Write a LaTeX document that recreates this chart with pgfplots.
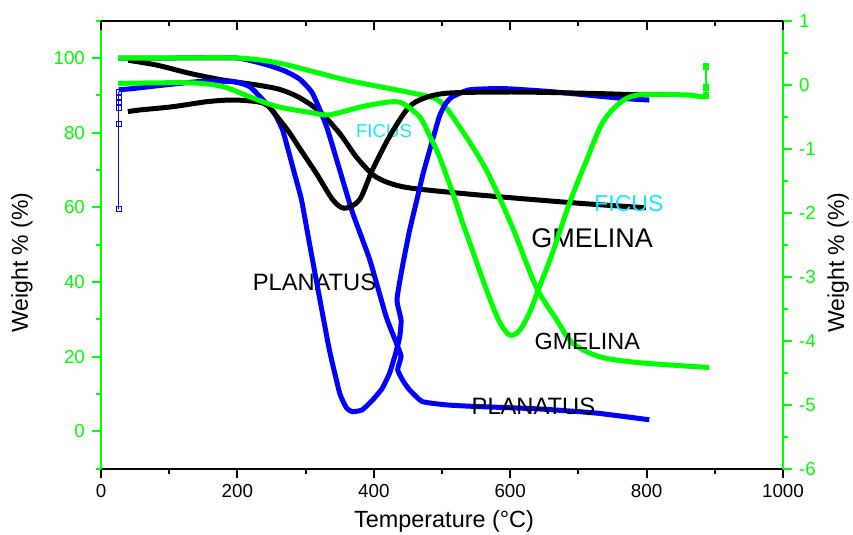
\documentclass[border=0pt]{standalone}
\usepackage{fontspec}
\setmainfont{Liberation Sans}
\usepackage{pgfplots}
\pgfplotsset{compat=1.18}

\definecolor{tgreen}{RGB}{0,255,0}
\definecolor{tblue}{RGB}{0,0,255}
\definecolor{ficus}{RGB}{20,230,255}

\pgfplotsset{
  common/.style={
    at={(0,0)}, anchor=south west,
    scale only axis, width=341pt, height=224pt,
    xmin=0, xmax=1000,
    xtick={0,200,...,1000}, minor xtick={100,300,...,900},
    major tick length=4.5pt, minor tick length=2.5pt,
    tick label style={font=\fontsize{9.4}{11}\selectfont},
    /pgf/number format/assume math mode=true,
    /pgf/number format/1000 sep={},
  },
  curve/.style={line width=2.5pt, smooth, tension=0.5, no marks},
}

\begin{document}
\begin{tikzpicture}
\path[use as bounding box] (-50.5pt,-33pt) rectangle (376pt,234.35pt);

% left axis: TG curves
\begin{axis}[common,
    ymin=-10, ymax=110,
    axis x line*=bottom, axis y line*=left,
    tick align=outside,
    ytick={0,20,...,100}, minor ytick={-10,10,...,110},
    x axis line style={line width=1pt},
    y axis line style={draw=tgreen, line width=1pt},
    xtick style={line width=1pt, draw=black},
    ytick style={line width=1pt, draw=tgreen},
    yticklabel style={text=tgreen},
    xlabel={Temperature (°C)},
    xlabel style={at={(axis description cs:0.503,-0.118)}, anchor=center, font=\fontsize{11.7}{14}\selectfont},
    ylabel={Weight \% (\%)},
    ylabel style={at={(axis description cs:-0.116,0.46)}, anchor=center, font=\fontsize{11.5}{14}\selectfont},
  ]
  % FICUS TG
  \addplot[curve, black] coordinates {
    (40,99.4)(82,98.1)(130,95.9)(179,94.1)(228,92.8)(262,91.6)(291,89.4)
    (321,85.6)(350,79.8)(374,73.6)(399,68.7)(423,66.5)(457,65.1)(555,63.3)
    (701,61.1)(799,59.9)};
  % PLANATUS TG
  \addplot[line width=2.5pt, tblue, smooth, tension=0.3, no marks] coordinates {
    (25,100)(100,100)(199,100)(243,98.2)(270,96.5)(291,94.4)(310,90.6)
    (331,81.5)(350,70)(369,58.5)(394,46)(418,30.8)(433,23.7)(440,20.1)
    (435,16.5)(443,13.5)(452,11.2)(471,8)(506,7.1)(545,6.7)(643,6)(726,4.9)(804,3.1)};
  % GMELINA TG
  \addplot[curve, tgreen] coordinates {
    (25,100)(100,100)(200,100)(262,98.6)(360,94.1)(457,90.6)(496,88.5)
    (526,81.5)(565,70)(603,54.8)(638,38.7)(668,29.9)(691,23.7)(731,20)
    (789,18.4)(892,17.1)};

  \node[font=\fontsize{11.85}{14}\selectfont, inner sep=0] at (axis cs:313,39.8) {PLANATUS};
  \node[font=\fontsize{11.85}{14}\selectfont, inner sep=0] at (axis cs:634,6.8) {PLANATUS};
  \node[font=\fontsize{9.3}{11}\selectfont, text=ficus, inner sep=0] at (axis cs:415,80.5) {FICUS};
  \node[font=\fontsize{11.5}{14}\selectfont, text=ficus, inner sep=0] at (axis cs:774,61.1) {FICUS};
  \node[font=\fontsize{13.5}{16}\selectfont, inner sep=0] at (axis cs:720,51.8) {GMELINA};
  \node[font=\fontsize{11.7}{14}\selectfont, inner sep=0] at (axis cs:713,24.1) {GMELINA};
\end{axis}

% right axis: DTG curves
\begin{axis}[common,
    ymin=-6, ymax=1,
    axis x line=none, axis y line*=right,
    tick align=outside,
    ytick={-6,...,1}, minor ytick={-5.5,-4.5,...,0.5},
    y axis line style={draw=tgreen, line width=1pt},
    ytick style={line width=1pt, draw=tgreen},
    yticklabel style={text=tgreen},
    ylabel={Weight \% (\%)},
    ylabel style={at={(axis description cs:1.081,0.46)}, anchor=center, font=\fontsize{11.5}{14}\selectfont},
  ]
  % PLANATUS DTG
  \addplot[tblue, line width=0.5pt, mark=square, mark size=1.2pt, mark options={fill=white}] coordinates {
    (26,-1.94)(26,-0.61)(26,-0.36)(26,-0.27)(26,-0.21)(26,-0.11)};
  \addplot[line width=2.5pt, tblue, smooth, tension=0.3, no marks] coordinates {
    (26,-0.08)(47,-0.06)(97,0.0)(145,0.05)(193,0.05)(218,-0.03)(243,-0.30)
    (256,-0.48)(266,-0.70)(274,-1.0)(284,-1.4)(294,-1.80)(306,-2.5)(321,-3.36)(335,-4.15)
    (350,-4.82)(360,-5.05)(369,-5.11)(383,-5.08)(398,-4.93)(412,-4.75)(423,-4.51)
    (432,-4.2)(438,-3.94)(440,-3.68)(434,-3.36)(442,-2.84)(452,-2.3)(462,-1.85)
    (472,-1.4)(482,-1.02)(496,-0.5)(505,-0.3)(515,-0.19)(540,-0.08)(589,-0.06)
    (662,-0.11)(760,-0.21)(804,-0.24)};
  % FICUS DTG
  \addplot[curve, black] coordinates {
    (39.5,-0.42)(57,-0.395)(105,-0.344)(155,-0.266)(193,-0.239)(229,-0.266)
    (245,-0.33)(262,-0.55)(277,-0.76)(291,-0.99)(316,-1.39)(340,-1.80)(357,-1.93)
    (379,-1.80)(398,-1.33)(423,-0.81)(448,-0.395)(467,-0.24)(506,-0.134)
    (603,-0.114)(712,-0.134)(796,-0.16)};
  % GMELINA DTG
  \addplot[curve, tgreen] coordinates {
    (25,0.02)(130,0.03)(179,-0.03)(218,-0.19)(258,-0.34)(310,-0.44)(335,-0.47)
    (384,-0.34)(423,-0.27)(442,-0.29)(467,-0.50)(482,-0.80)(496,-1.12)
    (516,-1.70)(530,-2.15)(545,-2.6)(565,-3.20)(584,-3.70)(599,-3.91)
    (613,-3.85)(628,-3.57)(645,-3.1)(662,-2.63)(687,-1.85)(712,-1.18)
    (735,-0.60)(760,-0.29)(788,-0.16)(858,-0.16)(881,-0.19)(887,-0.17)};
  \addplot[tgreen, line width=1pt, mark=square*, mark size=1.2pt] coordinates {
    (887,-0.17)(887,-0.04)(887,0.28)};
\end{axis}

% top axis line with inward ticks
\begin{axis}[common,
    ymin=0, ymax=1,
    axis x line*=top, axis y line=none,
    tick align=inside,
    xticklabels={},
    x axis line style={line width=1pt},
    xtick style={line width=1pt, draw=black},
  ]
\end{axis}
\end{tikzpicture}
\end{document}
